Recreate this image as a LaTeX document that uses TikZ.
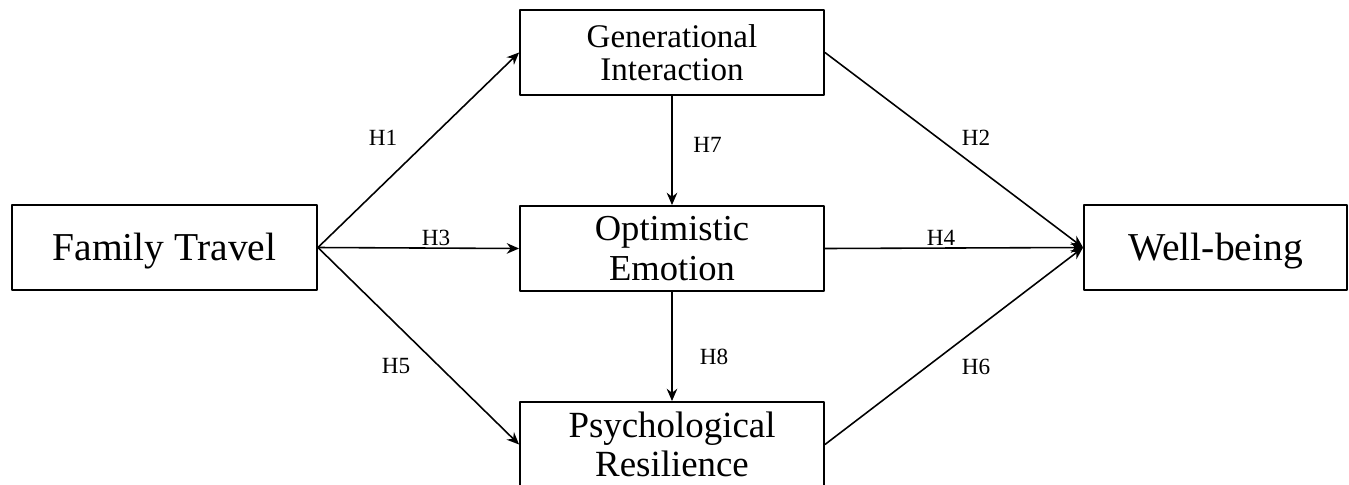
\documentclass[tikz,border=0pt]{standalone}
\usepackage{fontspec}
\setmainfont{Liberation Serif}
\usetikzlibrary{arrows.meta}
\begin{document}
\begin{tikzpicture}[x=0.02cm, y=-0.02cm, line join=round, >={Stealth[length=7pt,width=6pt]},
	var/.style={draw, line width=1.1pt, minimum width=6.08cm, minimum height=1.7cm, inner sep=0pt, align=center},
	hyp/.style={font=\fontsize{13.2}{13.2}\selectfont, inner sep=0pt},
	path/.style={->, line width=0.9pt}]
	\clip (0,0) rectangle (1349,484);
	\node[var, minimum width=6.1cm, text height=15.3pt, text depth=0pt, font=\fontsize{22.5}{22.5}\selectfont] (ft) at (164.5,247.5) {Family Travel};
	\node[var, font=\fontsize{18.8}{18.8}\selectfont] (gi) at (672,52.5) {Generational\\Interaction};
	\node[var, font=\fontsize{20.8}{22.8}\selectfont] (oe) at (672,248.5) {Optimistic\\Emotion};
	\node[var, font=\fontsize{21}{22.2}\selectfont] (pr) at (672,444.5) {Psychological\\Resilience};
	\node[var, minimum width=5.26cm, text height=15.3pt, text depth=0pt, font=\fontsize{22.5}{22.5}\selectfont] (wb) at (1215.5,247.5) {Well-being};
	% paths
	\draw[path] (ft.east) -- (gi.west);
	\draw[path] (ft.east) -- (oe.west);
	\draw[path] (ft.east) -- (pr.west);
	\draw[path] (gi.east) -- (wb.west);
	\draw[path] (oe.east) -- (wb.west);
	\draw[path] (pr.east) -- (wb.west);
	\draw[path] (gi.south) -- (oe.north);
	\draw[path] (oe.south) -- (pr.north);
	% hypotheses
	\foreach \n/\x/\y in {1/383/137.5, 2/976/137.5, 3/436/237.5, 4/941/237.5, 5/396/366.5, 6/976/367, 7/707.5/145, 8/714/357}
		\node[hyp] (h\n) at (\x,\y) {H\n};
\end{tikzpicture}
\end{document}
